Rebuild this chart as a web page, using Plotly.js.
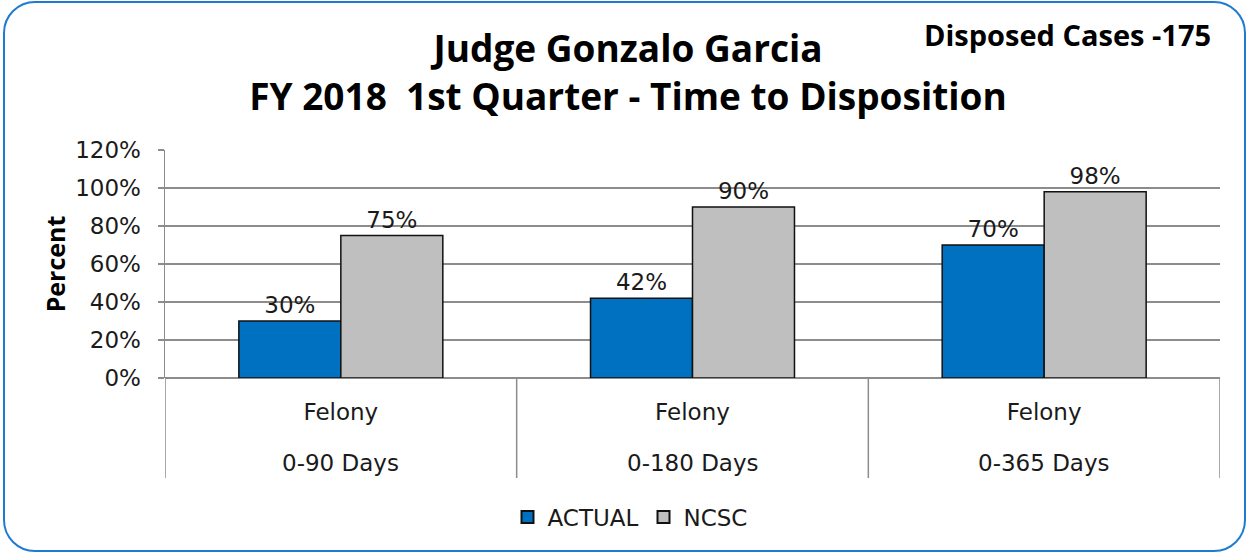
<!DOCTYPE html>
<html>
<head>
<meta charset="utf-8">
<script src="https://cdn.plot.ly/plotly-3.0.1.min.js"></script>
<style>
  html, body { margin:0; padding:0; background:#fff; }
  #wrap { position:relative; width:1248px; height:554px; }
  #frame { position:absolute; left:3px; top:1px; width:1243px; height:551px; box-sizing:border-box;
           border:2px solid #1f7bd0; border-radius:32px; pointer-events:none; z-index:5; }
  #chart { position:absolute; left:0; top:0; width:1248px; height:554px; }
</style>
</head>
<body>
<div id="wrap">
  <div id="chart"></div>
  <div id="frame"></div>
</div>
<script>
// ---- data ----
const periods = ["0-90 Days", "0-180 Days", "0-365 Days"];
const caseType = ["Felony", "Felony", "Felony"];
const actual = [0.30, 0.42, 0.70];
const ncsc = [0.75, 0.90, 0.98];
const seriesNames = ["ACTUAL", "NCSC"];
const titleLines = ["Judge Gonzalo Garcia", "FY 2018  1st Quarter - Time to Disposition"];
const disposedNote = "Disposed Cases -175";
const yTitle = "Percent";

const labelFont = {family: "DejaVu Sans, sans-serif", size: 23, color: "#1a1a1a"};
const pct = v => Math.round(v * 100) + "%";

const traces = [
  {
    type: "bar", name: seriesNames[0], x: periods, y: actual,
    marker: {color: "#0070C0", line: {color: "#111", width: 1.5}},
    text: actual.map(pct), textposition: "outside", cliponaxis: false,
    textfont: labelFont, hoverinfo: "skip"
  },
  {
    type: "bar", name: seriesNames[1], x: periods, y: ncsc,
    marker: {color: "#BFBFBF", line: {color: "#111", width: 1.5}},
    text: ncsc.map(pct), textposition: "outside", cliponaxis: false,
    textfont: labelFont, hoverinfo: "skip"
  }
];

const annotations = periods.map(p => ({
  x: p, xref: "x", y: 0, yref: "paper", yshift: -85,
  text: p, showarrow: false, font: labelFont, xanchor: "center", yanchor: "middle"
}));
annotations.push({
  x: (1213 - 165) / (1220 - 165), xref: "paper", y: 1 + (150 - 35) / 228, yref: "paper",
  text: "<b>" + disposedNote + "</b>",
  showarrow: false, font: {family: "Open Sans, sans-serif", size: 29, color: "#000"},
  xanchor: "right", yanchor: "middle"
});

const shapes = [];
for (let i = 0; i <= periods.length; i++) {
  shapes.push({
    type: "line", xref: "x", yref: "paper", x0: i - 0.5, x1: i - 0.5, y0: 0, y1: -100 / 228,
    line: {color: "#8c8c8c", width: 1.5}, layer: "below"
  });
}

const layout = {
  width: 1248, height: 554,
  margin: {l: 165, r: 28, t: 150, b: 176},
  paper_bgcolor: "rgba(0,0,0,0)", plot_bgcolor: "#fff",
  title: {
    text: "<b>" + titleLines.join("<br>") + "</b>",
    x: 628 / 1248, xanchor: "center", xref: "container",
    y: 1 - 62 / 554, yanchor: "middle", yref: "container",
    font: {family: "Open Sans, sans-serif", size: 37, color: "#000"}
  },
  barmode: "group", bargap: 0.42, bargroupgap: 0,
  showlegend: true,
  legend: {
    orientation: "h", x: 630 / 1248, xanchor: "center", xref: "container",
    y: 1 - 517 / 554, yanchor: "middle", yref: "container",
    font: labelFont, itemsizing: "constant", traceorder: "normal"
  },
  xaxis: {
    type: "category", range: [-0.5, periods.length - 0.5],
    tickmode: "array", tickvals: periods, ticktext: caseType,
    tickfont: labelFont, ticks: "", ticklabelstandoff: 18,
    showgrid: false, zeroline: false, showline: false, fixedrange: true
  },
  yaxis: {
    range: [0, 1.2], dtick: 0.2, tick0: 0, tickformat: ".0%",
    tickfont: labelFont, ticks: "outside", ticklen: 6, tickcolor: "#8c8c8c", tickwidth: 1.5,
    ticklabelstandoff: 12,
    showgrid: true, gridcolor: "#8c8c8c", gridwidth: 1.5,
    showline: true, linecolor: "#8c8c8c", linewidth: 1.5,
    zeroline: true, zerolinecolor: "#8c8c8c", zerolinewidth: 1.5,
    title: {text: "<b>" + yTitle + "</b>", font: {family: "Open Sans, sans-serif", size: 25, color: "#000"}, standoff: 2},
    fixedrange: true
  },
  annotations: annotations,
  shapes: shapes
};

Plotly.newPlot("chart", traces, layout, {displayModeBar: false, staticPlot: true});
</script>
</body>
</html>
